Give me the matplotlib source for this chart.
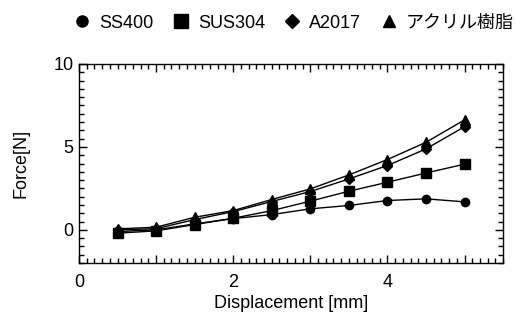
import matplotlib.pyplot as plt
from matplotlib.ticker import MultipleLocator

plt.rcParams['font.family'] = ['Liberation Sans', 'Noto Sans CJK JP', 'DejaVu Sans']

# data
disp = [0.5, 1.0, 1.5, 2.0, 2.5, 3.0, 3.5, 4.0, 4.5, 5.0]
ss400 = [-0.1, 0.0, 0.36, 0.68, 0.92, 1.27, 1.47, 1.77, 1.87, 1.69]
sus304 = [-0.2, -0.06, 0.32, 0.70, 1.16, 1.73, 2.33, 2.87, 3.43, 3.96]
a2017 = [0.0, 0.07, 0.62, 1.10, 1.71, 2.31, 3.07, 3.88, 4.88, 6.22]
acryl = [0.06, 0.16, 0.76, 1.16, 1.83, 2.47, 3.31, 4.24, 5.28, 6.63]
names = ['SS400', 'SUS304', 'A2017', 'アクリル樹脂']

fig = plt.figure(figsize=(5.16, 3.2), dpi=100)
ax = fig.add_axes([0.153, 0.178, 0.822, 0.622])

series = [ss400, sus304, a2017, acryl]
markers = ['o', 's', 'D', '^']
sizes = [6, 7.5, 5.5, 7]
for ys, m, s in zip(series, markers, sizes):
    ax.plot(disp, ys, color='black', lw=1, marker=m, ms=s)

ax.set_xlim(0, 5.5)
ax.set_ylim(-2, 10)
ax.xaxis.set_major_locator(MultipleLocator(1))
ax.xaxis.set_minor_locator(MultipleLocator(0.1))
ax.xaxis.set_major_formatter(plt.FuncFormatter(lambda v, p: '%d' % v if int(round(v)) % 2 == 0 else ''))
ax.yaxis.set_major_locator(MultipleLocator(5))
ax.yaxis.set_minor_locator(MultipleLocator(0.5))
ax.tick_params(which='both', direction='in', top=True, right=True, labelsize=13, width=1)
ax.tick_params(which='major', length=6, pad=4)
ax.tick_params(axis='x', which='major', pad=8)
ax.tick_params(which='minor', length=3.5)
for sp in ax.spines.values():
    sp.set_linewidth(1)

ax.set_xlabel('Displacement [mm]', fontsize=13, labelpad=3)
ax.set_ylabel('Force[N]', fontsize=13, labelpad=17)

handles = [plt.Line2D([], [], color='black', ls='none', marker=m, ms=s + 2) for m, s in zip(markers, sizes)]
fig.legend(handles, names, loc='upper right', bbox_to_anchor=(1.027, 1.005), ncol=4, frameon=False,
           fontsize=13, handletextpad=0.45, columnspacing=1.0, handlelength=1.0)

fig.savefig('out.png', dpi=100)
